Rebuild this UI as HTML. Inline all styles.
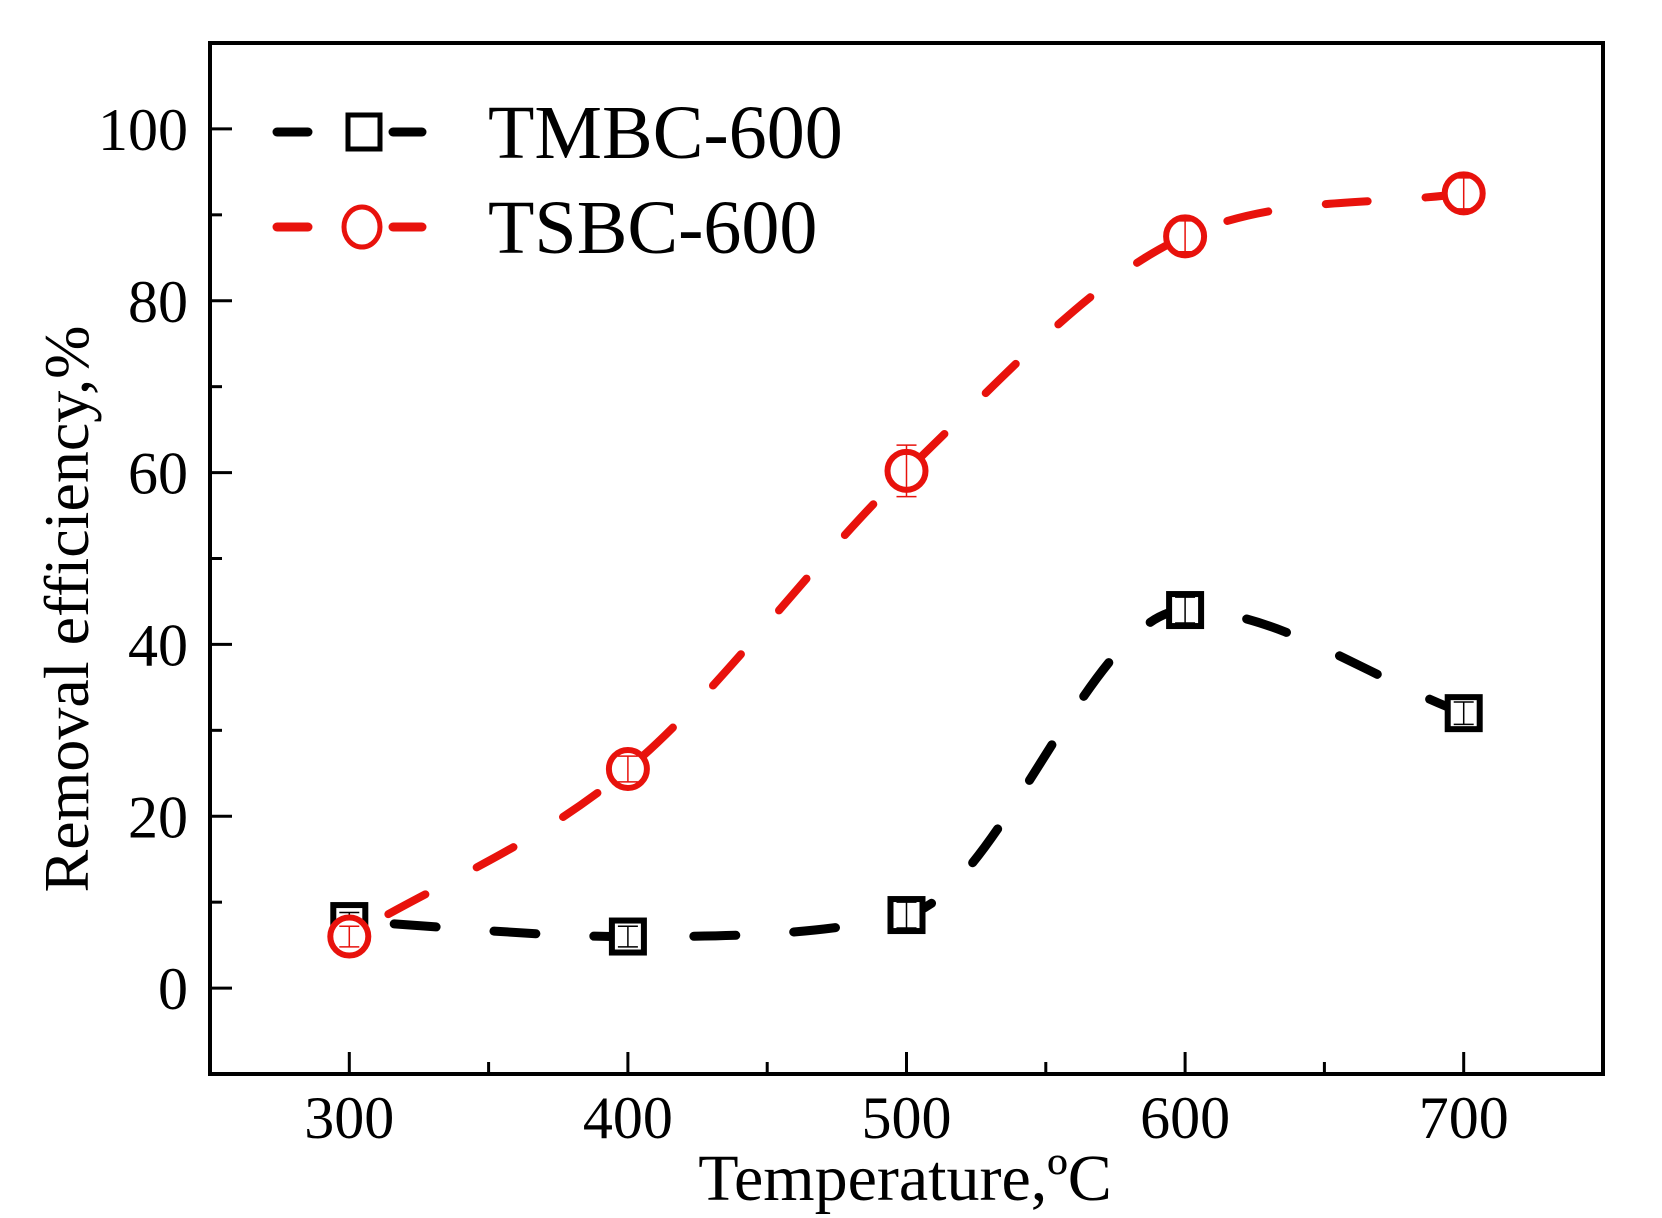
<!DOCTYPE html>
<html><head><meta charset="utf-8"><style>
html,body{margin:0;padding:0;background:#fff;}
svg{display:block;font-family:"Liberation Serif",serif;}
</style></head><body>
<svg id="chart" width="1662" height="1218" viewBox="0 0 1662 1218" xmlns="http://www.w3.org/2000/svg">
<rect x="0" y="0" width="1662" height="1218" fill="#fff"/>
<g id="plot"></g>
</svg>
<script>
const categories = [300, 400, 500, 600, 700];
const tmbcValues = [7.8, 6.0, 8.5, 44.0, 32.0];
const tsbcValues = [6.0, 25.5, 60.2, 87.5, 92.5];
const tmbcErr = [1.0, 1.2, 1.5, 1.5, 1.3];
const tsbcErr = [1.2, 1.5, 3.0, 1.8, 1.8];
const xTicks = [300, 400, 500, 600, 700];
const xMinorTicks = [350, 450, 550, 650];
const yTicks = [0, 20, 40, 60, 80, 100];
const yMinorTicks = [10, 30, 50, 70, 90];

const NS = "http://www.w3.org/2000/svg";
const L = 210, R = 1603, T = 43, B = 1074;
const xMin = 250, xMax = 750, yMin = -10, yMax = 110;
const xs = v => L + (v - xMin) / (xMax - xMin) * (R - L);
const ys = v => B - (v - yMin) / (yMax - yMin) * (B - T);
const g = document.getElementById('plot');
function mk(tag, attrs, parent) {
  const e = document.createElementNS(NS, tag);
  for (const k in attrs) e.setAttribute(k, attrs[k]);
  (parent || g).appendChild(e);
  return e;
}

const frame = mk('rect', {x: L, y: T, width: R - L, height: B - T, fill: 'none', stroke: '#000', 'stroke-width': 4});



xTicks.forEach(v => {
  const t = mk('line', {x1: xs(v), x2: xs(v), y1: B, y2: B - 22, stroke: '#000', 'stroke-width': 3});
  
  
  const lb = mk('text', {x: xs(v), y: B + 64, 'font-size': 60, 'text-anchor': 'middle', fill: '#000'});
  lb.textContent = v;
  
  
});
xMinorTicks.forEach(v => {
  const t = mk('line', {x1: xs(v), x2: xs(v), y1: B, y2: B - 12, stroke: '#000', 'stroke-width': 3});
  
  
});
yTicks.forEach(v => {
  const t = mk('line', {x1: L, x2: L + 22, y1: ys(v), y2: ys(v), stroke: '#000', 'stroke-width': 3});
  
  
  const lb = mk('text', {x: 188, y: ys(v) + 21, 'font-size': 60, 'text-anchor': 'end', fill: '#000'});
  lb.textContent = v;
  
  
});
yMinorTicks.forEach(v => {
  const t = mk('line', {x1: L, x2: L + 12, y1: ys(v), y2: ys(v), stroke: '#000', 'stroke-width': 3});
  
  
});

const xt = mk('text', {x: 905, y: 1200, 'font-size': 66, 'text-anchor': 'middle', fill: '#000'});
xt.textContent = 'Temperature,ºC';


const yt = mk('text', {x: 0, y: 0, 'font-size': 64, 'text-anchor': 'middle', fill: '#000', transform: 'translate(88,609) rotate(-90)'});
yt.textContent = 'Removal efficiency,%';



// monotone cubic (Fritsch-Carlson) path
function splinePath(vals) {
  const p = categories.map((c, i) => [xs(c), ys(vals[i])]);
  const n = p.length, d = [], m = [];
  for (let i = 0; i < n - 1; i++) d.push((p[i + 1][1] - p[i][1]) / (p[i + 1][0] - p[i][0]));
  m[0] = d[0]; m[n - 1] = d[n - 2];
  for (let i = 1; i < n - 1; i++) m[i] = (d[i - 1] * d[i] <= 0) ? 0 : (d[i - 1] + d[i]) / 2;
  for (let i = 0; i < n - 1; i++) {
    if (d[i] === 0) { m[i] = 0; m[i + 1] = 0; continue; }
    const a = m[i] / d[i], b = m[i + 1] / d[i], s = a * a + b * b;
    if (s > 9) { const t = 3 / Math.sqrt(s); m[i] = t * a * d[i]; m[i + 1] = t * b * d[i]; }
  }
  let path = `M${p[0][0]},${p[0][1]}`;
  for (let i = 0; i < n - 1; i++) {
    const h = (p[i + 1][0] - p[i][0]) / 3;
    path += ` C${p[i][0] + h},${p[i][1] + m[i] * h} ${p[i + 1][0] - h},${p[i + 1][1] - m[i + 1] * h} ${p[i + 1][0]},${p[i + 1][1]}`;
  }
  return path;
}

function series(vals, errs, color, shape, name, w) {
  const path = mk('path', {d: splinePath(vals), fill: 'none', stroke: color, 'stroke-width': w, 'stroke-linecap': 'round', 'stroke-dasharray': '42 58', 'stroke-dashoffset': -45});
  
  
  categories.forEach((c, i) => {
    const cx = xs(c), cy = ys(vals[i]);
    let m;
    if (shape === 'square') {
      m = mk('rect', {x: cx - 16, y: cy - 16, width: 32, height: 32, fill: '#fff', stroke: color, 'stroke-width': 6});
    } else {
      m = mk('circle', {cx: cx, cy: cy, r: 19, fill: '#fff', stroke: color, 'stroke-width': 6});
    }
    
    
    const e = errs[i], y1 = ys(vals[i] + e), y2 = ys(vals[i] - e);
    const eb = mk('path', {d: `M${cx},${y1} V${y2} M${cx - 10},${y1} H${cx + 10} M${cx - 10},${y2} H${cx + 10}`, stroke: color, 'stroke-width': 1.5, fill: 'none'});
    
    
  });
}
series(tmbcValues, tmbcErr, '#000', 'square', 'tmbc', 9);
series(tsbcValues, tsbcErr, '#e8120c', 'circle', 'tsbc', 8);

function legend(y, color, shape, label, name) {
  const lg = mk('g', {});
  
  
  mk('line', {x1: 277, x2: 308, y1: y, y2: y, stroke: color, 'stroke-width': 9, 'stroke-linecap': 'round'}, lg);
  mk('line', {x1: 393, x2: 422, y1: y, y2: y, stroke: color, 'stroke-width': 9, 'stroke-linecap': 'round'}, lg);
  if (shape === 'square') mk('rect', {x: 348, y: y - 17, width: 32, height: 34, fill: '#fff', stroke: color, 'stroke-width': 5}, lg);
  else mk('ellipse', {cx: 362, cy: y, rx: 18, ry: 20, fill: '#fff', stroke: color, 'stroke-width': 5}, lg);
  const t = mk('text', {x: 488, y: y + 26, 'font-size': 76, fill: '#000'}, lg);
  t.textContent = label;
}
legend(132, '#000', 'square', 'TMBC-600', 'tmbc');
legend(227, '#e8120c', 'circle', 'TSBC-600', 'tsbc');
</script>
</body></html>
